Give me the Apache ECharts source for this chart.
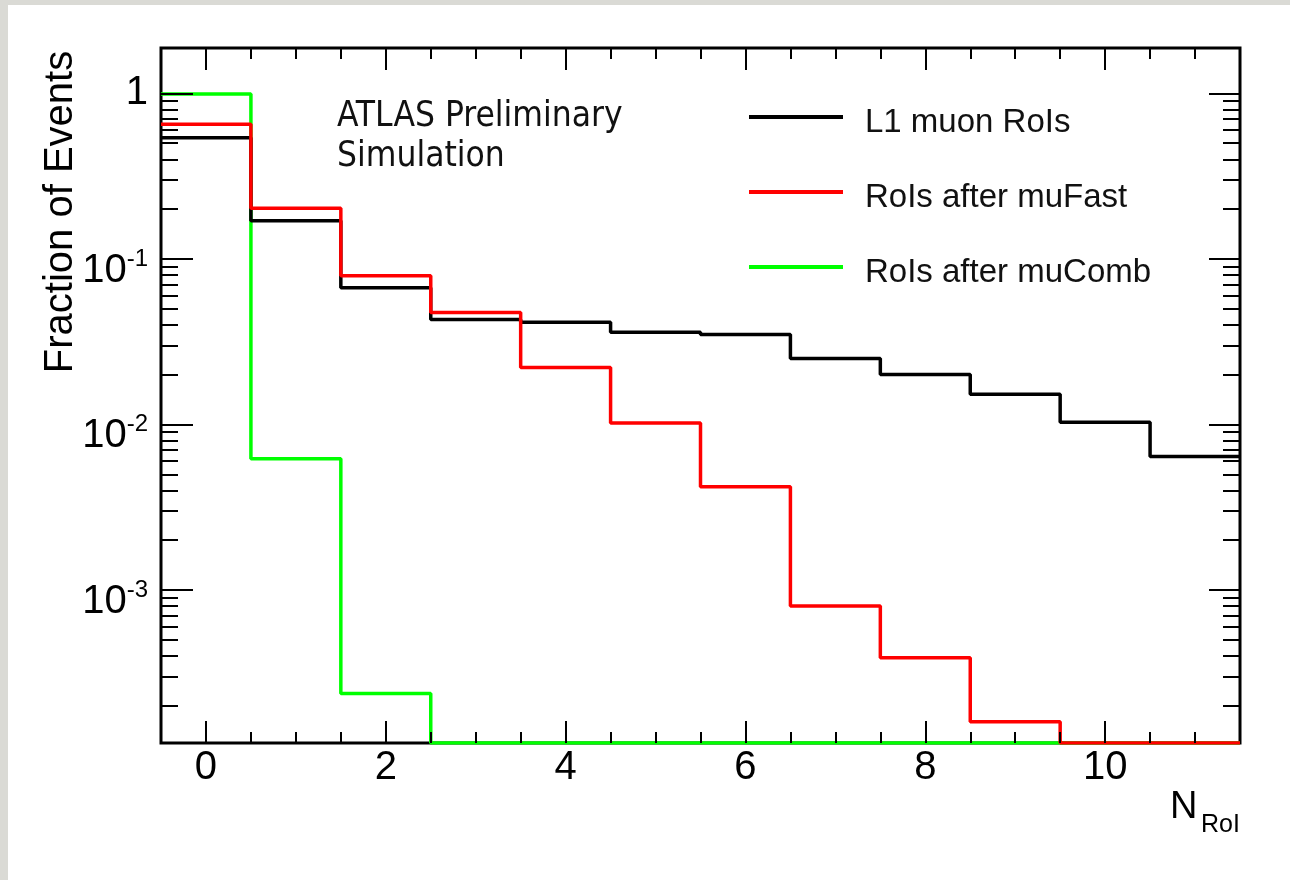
<!DOCTYPE html>
<html>
<head>
<meta charset="utf-8">
<script src="https://cdn.jsdelivr.net/npm/echarts@6.0.0/dist/echarts.min.js"></script>
<style>
  html, body { margin: 0; padding: 0; background: #dadad5; }
  #card { position: absolute; left: 8px; top: 5px; right: 0; bottom: 0; background: #fff; }
  #chart { position: absolute; left: 0; top: 0; width: 1290px; height: 880px; }
</style>
</head>
<body>
<div id="card"></div>
<div id="chart"></div>
<script>
// bins of N_RoI (bin centres, width 1)
var binCenters = [0, 1, 2, 3, 4, 5, 6, 7, 8, 9, 10, 11];
// fraction of events per bin (0 = empty bin)
var l1Rois     = [0.54, 0.17, 0.067, 0.043, 0.0415, 0.036, 0.035, 0.025, 0.020, 0.0152, 0.0103, 0.0064];
var muFastRois = [0.65, 0.202, 0.079, 0.0475, 0.0221, 0.0102, 0.0042, 0.0008, 0.00039, 0.00016, 0, 0];
var muCombRois = [0.99, 0.0062, 0.000237, 0, 0, 0, 0, 0, 0, 0, 0, 0];
var seriesNames = ['L1 muon RoIs', 'RoIs after muFast', 'RoIs after muComb'];

// axes
var xMin = -0.5, xMax = 11.5;
var yMin = 1.19e-4, yMax = 1.88;
var xMajorTicks = [0, 2, 4, 6, 8, 10];
var xMinorTicks = [0.5, 1, 1.5, 2.5, 3, 3.5, 4.5, 5, 5.5, 6.5, 7, 7.5, 8.5, 9, 9.5, 10.5, 11];
var yMajorTicks = [0.001, 0.01, 0.1, 1];
var yMinorTicks = [];
for (var d = -4; d <= -1; d++) {
    for (var m = 2; m <= 9; m++) {
        var v = m * Math.pow(10, d);
        if (v >= yMin && v <= yMax) yMinorTicks.push(v);
    }
}

var font = '"Liberation Sans", Arial, sans-serif';

// histogram outline: one point per left bin edge, plus the last right edge
function histPoints(vals) {
    var pts = binCenters.map(function (c, i) {
        return [c - 0.5, Math.max(vals[i], yMin)];
    });
    var n = binCenters.length - 1;
    pts.push([binCenters[n] + 0.5, Math.max(vals[n], yMin)]);
    return pts;
}

function histSeries(name, vals, color, z) {
    return {
        name: name,
        type: 'line',
        step: 'end',
        z: z,
        symbol: 'none',
        xAxisIndex: 0,
        yAxisIndex: 0,
        lineStyle: { color: color, width: 3.5 },
        itemStyle: { color: color },
        data: histPoints(vals)
    };
}

function xAxisOf(pos, ticks, len, labels) {
    return {
        type: 'value', position: pos, min: xMin, max: xMax, z: 5,
        axisLine: { show: false, onZero: false },
        splitLine: { show: false },
        axisTick: { show: true, inside: true, length: len, customValues: ticks,
            lineStyle: { color: '#000', width: 2 } },
        axisLabel: labels ? {
            show: true, customValues: ticks, margin: 5,
            fontSize: 40, fontFamily: font, color: '#000'
        } : { show: false }
    };
}

function yLabel(value) {
    if (Math.abs(value - 1) < 1e-9) return '{one|1}';
    var e = Math.round(Math.log(value) / Math.LN10);
    return '{b|10}{s|' + e + '}';
}

function yAxisOf(pos, ticks, len, labels) {
    return {
        type: 'log', logBase: 10, position: pos, min: yMin, max: yMax, z: 5,
        axisLine: { show: false, onZero: false },
        splitLine: { show: false },
        minorTick: { show: false },
        axisTick: { show: true, inside: true, length: len, customValues: ticks,
            lineStyle: { color: '#000', width: 2 } },
        axisLabel: labels ? {
            show: true, customValues: ticks, margin: 13, formatter: yLabel,
            color: '#000', fontFamily: font,
            rich: {
                one: { fontSize: 40, lineHeight: 40, fontFamily: font, color: '#000' },
                b: { fontSize: 40, lineHeight: 40, verticalAlign: 'bottom', fontFamily: font, color: '#000' },
                s: { fontSize: 24, lineHeight: 64, verticalAlign: 'middle', fontFamily: font, color: '#000' }
            }
        } : { show: false }
    };
}

var chart = echarts.init(document.getElementById('chart'), null, { renderer: 'canvas' });
chart.setOption({
    animation: false,
    backgroundColor: 'transparent',
    grid: {
        left: 161, top: 48, right: 50, bottom: 137,
        show: true, borderColor: '#000', borderWidth: 3, backgroundColor: 'transparent'
    },
    legend: {
        orient: 'vertical', left: 749, top: 103, padding: 0, itemGap: 35,
        itemWidth: 94, itemHeight: 16,
        // line sits in the upper part of the icon box, so the text hangs a little lower
        icon: 'path://M0,0L94,0L94,4L0,4Z M0,16L0.01,16L0,16Z',
        data: seriesNames,
        selectedMode: false,
        textStyle: { fontSize: 33, lineHeight: 40, fontFamily: font, color: '#111',
            padding: [0, 0, 0, 17] }
    },
    xAxis: [
        xAxisOf('bottom', xMajorTicks, 22, true),
        xAxisOf('bottom', xMinorTicks, 11, false),
        xAxisOf('top', xMajorTicks, 22, false),
        xAxisOf('top', xMinorTicks, 11, false)
    ],
    yAxis: [
        yAxisOf('left', yMajorTicks, 32, true),
        yAxisOf('left', yMinorTicks, 17, false),
        yAxisOf('right', yMajorTicks, 31, false),
        yAxisOf('right', yMinorTicks, 17, false)
    ],
    graphic: [
        {
            type: 'text', x: 61, y: 212, rotation: Math.PI / 2,
            style: { text: 'Fraction of Events', fontSize: 40, fontFamily: font,
                fill: '#000', align: 'center', verticalAlign: 'middle' }
        },
        {
            type: 'text', x: 337, y: 97,
            style: { text: 'ATLAS Preliminary\nSimulation', fontSize: 35, lineHeight: 40,
                fontFamily: '"DejaVu Sans Condensed", "DejaVu Sans", sans-serif',
                fill: '#111', align: 'left', verticalAlign: 'top' }
        },
        {
            type: 'text', x: 1170, y: 808,
            style: { text: 'N', fontSize: 38, fontFamily: font, fill: '#000',
                align: 'left', verticalAlign: 'middle' }
        },
        {
            type: 'text', x: 1201, y: 825,
            style: { text: 'RoI', fontSize: 25, fontFamily: font, fill: '#000',
                align: 'left', verticalAlign: 'middle' }
        }
    ],
    series: [
        histSeries(seriesNames[2], muCombRois, '#00ff00', 2),
        histSeries(seriesNames[0], l1Rois, '#000000', 3),
        histSeries(seriesNames[1], muFastRois, '#ff0000', 4)
    ]
});
</script>
</body>
</html>
